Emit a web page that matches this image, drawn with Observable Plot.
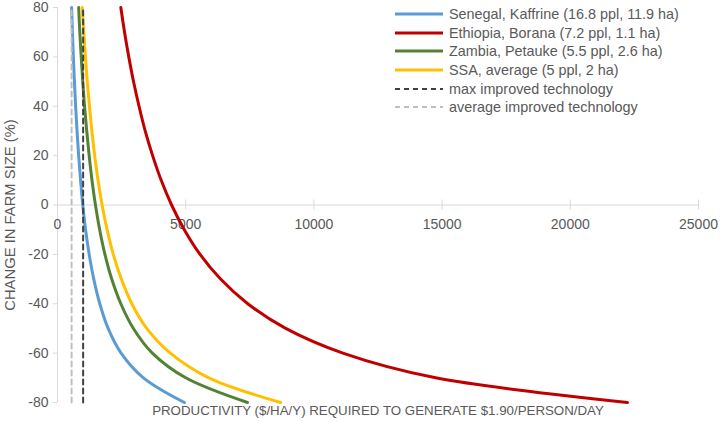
<!DOCTYPE html>
<html><head><meta charset="utf-8">
<script src="https://cdn.jsdelivr.net/npm/d3@7"></script>
<script src="https://cdn.jsdelivr.net/npm/@observablehq/plot@0.6"></script>
<style>
body{margin:0;background:#fff;}
#wrap{position:relative;width:720px;height:422px;font-family:"Liberation Sans",Arial,sans-serif;}
#legend{position:absolute;left:395px;top:5px;font-size:14.4px;color:#595959;}
.item{display:flex;align-items:center;height:18.6px;white-space:nowrap;}
.item svg{margin-right:6px;}
</style></head><body><div id="wrap"><div id="legend"></div></div>
<script>
const farmSizeChange = [80,70,60,50,40,30,20,10,0,-10,-20,-30,-40,-50,-60,-70,-80];
const senegal  = [550,582,619,660,707,762,825,900,985,1095,1235,1415,1650,1975,2480,3350,4950];
const ethiopia = [2470,2615,2780,2965,3180,3420,3710,4045,4450,4945,5560,6360,7420,8900,11130,14750,22230];
const zambia   = [825,870,925,985,1055,1140,1235,1345,1480,1645,1850,2115,2470,2960,3700,5000,7410];
const ssa      = [965,1025,1090,1160,1245,1340,1450,1580,1740,1935,2175,2490,2900,3480,4400,5900,8700];
const seriesNames = ["Senegal, Kaffrine (16.8 ppl, 11.9 ha)","Ethiopia, Borana (7.2 ppl, 1.1 ha)","Zambia, Petauke (5.5 ppl, 2.6 ha)","SSA, average (5 ppl, 2 ha)"];
const seriesColors = ["#5b9bd5","#c00000","#548235","#ffc000"];
const techNames = ["max improved technology","average improved technology"];
const techValues = [1000, 550];
const techColors = ["#404040","#bfbfbf"];
const xTicks = [0,5000,10000,15000,20000,25000];
const yTicks = [-80,-60,-40,-20,0,20,40,60,80];
const xTitle = "PRODUCTIVITY ($/HA/Y) REQUIRED TO GENERATE $1.90/PERSON/DAY";
const yTitle = "CHANGE IN FARM SIZE (%)";

const seriesValues = [senegal, ethiopia, zambia, ssa];
const rows = [];
seriesValues.forEach((vals, i) => vals.forEach((v, j) => rows.push({series: seriesNames[i], productivity: v, change: farmSizeChange[j]})));
const techRows = [];
techValues.forEach((v, i) => [d3.min(farmSizeChange), d3.max(farmSizeChange)].forEach(c => techRows.push({name: techNames[i], productivity: v, change: c})));

const chart = Plot.plot({
  width: 720, height: 422,
  marginLeft: 57, marginRight: 22, marginTop: 7, marginBottom: 20,
  style: {fontFamily: '"Liberation Sans", Arial, sans-serif', background: "#fff"},
  x: {domain: [0, 25000], axis: null},
  y: {domain: [-80, 80]},
  color: {domain: [...seriesNames, ...techNames], range: [...seriesColors, ...techColors]},
  marks: [
    Plot.ruleX([0], {stroke: "#d9d9d9"}),
    Plot.ruleY([0], {stroke: "#d9d9d9"}),
    Plot.ruleX(xTicks, {x: d => d, y1: 0, y2: 0, insetTop: -5, insetBottom: -5, stroke: "#d9d9d9"}),
    Plot.text(xTicks, {x: d => d, y: 0, dy: 20, text: d => String(d), fill: "#595959", fontSize: 14}),
    Plot.axisY({ticks: yTicks, tickSize: 4, tickPadding: 5, tickFormat: d => String(d), stroke: "#d9d9d9", fill: "#595959", fontSize: 14, label: null}),
    Plot.line(rows, {x: "productivity", y: "change", z: "series", stroke: "series", strokeWidth: 3, curve: "catmull-rom"}),
    Plot.line(techRows, {x: "productivity", y: "change", z: "name", stroke: "name", strokeWidth: 2, strokeDasharray: "5,4"}),
    Plot.text([xTitle], {frameAnchor: "bottom", textAnchor: "middle", lineAnchor: "middle", dy: 8, fill: "#595959", fontSize: 13.3}),
    Plot.text([yTitle], {frameAnchor: "left", textAnchor: "middle", lineAnchor: "middle", dx: -47, dy: 10, rotate: -90, fill: "#595959", fontSize: 14.8})
  ]
});
document.getElementById("wrap").prepend(chart);

const legend = document.getElementById("legend");
const items = [
  ...seriesNames.map((n, i) => ({name: n, color: seriesColors[i], dash: null, w: 3})),
  ...techNames.map((n, i) => ({name: n, color: techColors[i], dash: "5,4", w: 2}))
];
items.forEach(it => {
  const div = document.createElement("div");
  div.className = "item";
  div.innerHTML = `<svg width="48" height="6"><line x1="0" x2="48" y1="3" y2="3" stroke="${it.color}" stroke-width="${it.w}" ${it.dash ? `stroke-dasharray="${it.dash}"` : ""}/></svg><span>${it.name}</span>`;
  legend.appendChild(div);
});
</script></body></html>
